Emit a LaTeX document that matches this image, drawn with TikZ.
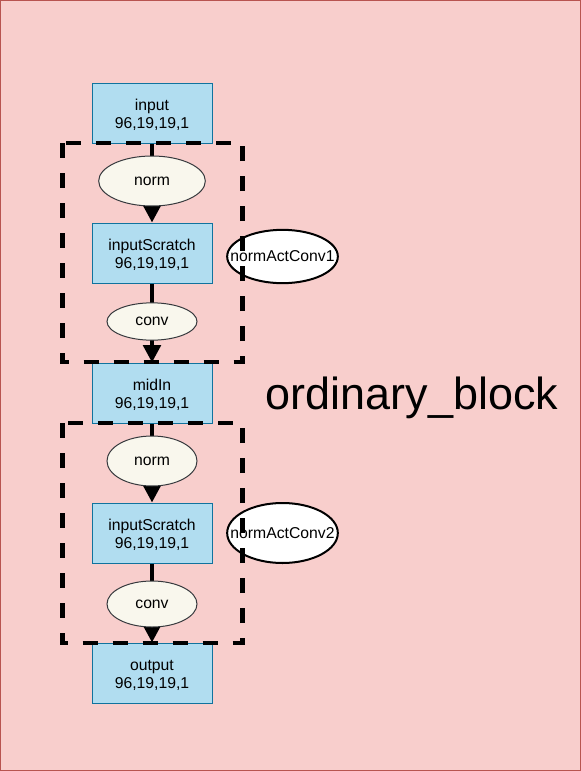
\documentclass[tikz,border=0pt]{standalone}
\usepackage{fontspec}
\setmainfont{Liberation Sans}
\usetikzlibrary{arrows.meta,shapes.geometric}
\definecolor{pageRed}{HTML}{F8CECC}
\definecolor{pageLine}{HTML}{B85450}
\definecolor{boxBlue}{HTML}{B1DDF0}
\definecolor{boxLine}{HTML}{10739E}
\definecolor{opFill}{HTML}{F9F7ED}
\definecolor{opLine}{HTML}{36393D}

\begin{document}
\begin{tikzpicture}[x=0.75pt,y=-0.75pt,
    tensor/.style={draw=boxLine, line width=0.75pt, fill=boxBlue, minimum width=90pt,
      minimum height=45pt, inner sep=0pt, align=center, text height=24.5pt, text depth=1.5pt,
      font=\fontsize{11.8}{13.2}\selectfont},
    op/.style={ellipse, draw=opLine, line width=0.75pt, fill=opFill, inner sep=0pt,
      font=\fontsize{11.8}{15}\selectfont},
    blockname/.style={ellipse, draw=black, line width=1.5pt, fill=white, inner sep=0pt,
      minimum width=83pt},
    flow/.style={line width=3pt, -{Triangle[width=13pt,length=13pt]}},
    group/.style={line width=3.4pt, dash pattern=on 11.25pt off 11.25pt}]
  \useasboundingbox (0,0) rectangle (581,771);
  % background
  \draw[pageLine, fill=pageRed, line width=0.75pt] (0.5,0.5) rectangle (580.5,770.5);

  % tensors
  \node[tensor] (input) at (152,113) {input\\96,19,19,1};
  \node[tensor] (scratchA) at (152,253) {inputScratch\\96,19,19,1};
  \node[tensor] (midIn) at (152,393) {midIn\\96,19,19,1};
  \node[tensor] (scratchB) at (152,533) {inputScratch\\96,19,19,1};
  \node[tensor] (output) at (152,673) {output\\96,19,19,1};

  % connectors
  \draw[flow] (input) -- (scratchA);
  \draw[flow] (scratchA) -- (midIn);
  \draw[flow] (midIn) -- (scratchB);
  \draw[flow] (scratchB) -- (output);

  % operations
  \node[op, minimum width=80pt, minimum height=37.5pt] (normA) at (152,181) {norm};
  \node[op, minimum width=67.5pt, minimum height=28pt] (convA) at (152,321.5) {conv};
  \node[op, minimum width=67.5pt, minimum height=37.5pt] (normB) at (152,461) {norm};
  \node[op, minimum width=67.5pt, minimum height=34.5pt] (convB) at (152,604) {conv};

  % blocks
  \node[blockname, minimum height=40pt] (blockA) at (282.5,256.5) {};
  \node[blockname, minimum height=45pt] (blockB) at (282.5,533) {};
  \draw[group] (62.5,143) rectangle (242.5,362);
  \draw[group] (62.5,423) rectangle (242.5,643);
  \node[font=\fontsize{11.8}{15}\selectfont] at (blockA) {normActConv1};
  \node[font=\fontsize{11.8}{15}\selectfont] at (blockB) {normActConv2};

  \node[font=\fontsize{33.7}{40}\selectfont, anchor=base] (title) at (412,409.3) {ordinary\_block};
\end{tikzpicture}
\end{document}
